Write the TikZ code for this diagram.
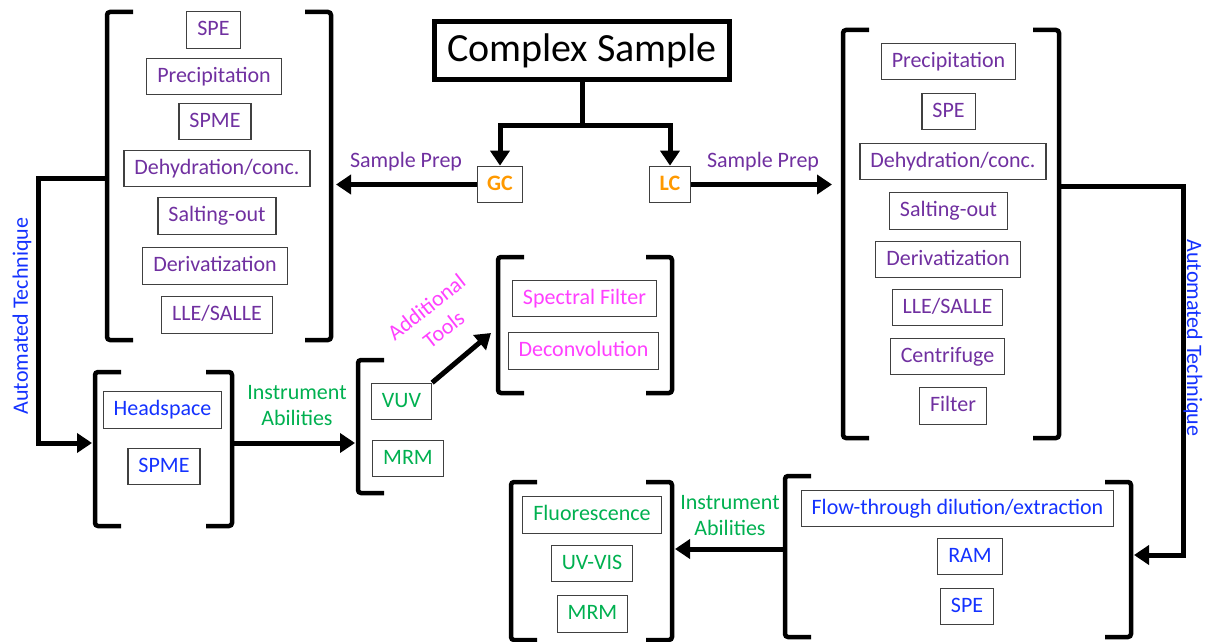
\documentclass[tikz,border=0pt]{standalone}
\usepackage{fontspec}
\setmainfont{Carlito}
\usetikzlibrary{arrows.meta}
\definecolor{prep}{RGB}{112,48,160}
\definecolor{autoc}{RGB}{20,50,255}
\definecolor{instr}{RGB}{0,176,80}
\definecolor{toolc}{RGB}{255,64,255}
\definecolor{chrom}{RGB}{255,153,0}
\definecolor{edge}{RGB}{64,64,64}

% square brackets: x, top y, bottom y
\newcommand\openbr[3]{\draw[brak] ({#1+26},#2) -- (#1,#2) -- (#1,#3) -- ({#1+26},#3);}
\newcommand\closebr[3]{\draw[brak] ({#1-26},#2) -- (#1,#2) -- (#1,#3) -- ({#1-26},#3);}

\begin{document}
\begin{tikzpicture}[x=1pt,y=-1pt,
  lbl/.style={font=\fontsize{22}{26}\selectfont},
  item/.style={lbl, draw=edge, line width=1.2pt, inner xsep=10.5pt, inner ysep=0pt,
    text height=16pt, text depth=5pt, minimum height=36.5pt},
  prepbox/.style={item, text=prep},
  autobox/.style={item, text=autoc},
  instrbox/.style={item, text=instr},
  toolbox/.style={item, text=toolc},
  chrombox/.style={item, text=chrom, font=\fontsize{22}{26}\selectfont\bfseries, inner xsep=10pt},
  brak/.style={line width=4.5pt, rounded corners=3pt},
  flow/.style={line width=5pt, -{Triangle[width=19pt,length=15pt]}},
  link/.style={line width=5pt},
]
\useasboundingbox (0,0) rectangle (1210,642);

% ---------- origin ----------
\node[draw, line width=5pt, font=\fontsize{40}{44}\selectfont, minimum width=295pt,
  minimum height=58pt, inner sep=0pt] (sample) at (582,50.5) {Complex Sample};
\node[chrombox] (gc) at (500,184.5) {GC};
\node[chrombox] (lc) at (670,184.5) {LC};
\draw[link] (sample.south) -- ++(0,43) coordinate (split);
\draw[flow] (split) -| (gc.north);
\draw[flow] (split) -| (lc.north);

% ---------- GC sample preparation ----------
\openbr{107}{12}{340}
\closebr{331}{12}{340}
\node[prepbox] at (213.5,30) {SPE};
\node[prepbox] at (214,76.5) {Precipitation};
\node[prepbox] at (215,121.5) {SPME};
\node[prepbox] at (217,168.5) {Dehydration/conc.};
\node[prepbox] at (217,216) {Salting-out};
\node[prepbox] at (215,266) {Derivatization};
\node[prepbox] at (217,315) {LLE/SALLE};
\coordinate (gcprep) at (336,184.5);
\draw[flow] (gc.west) -- (gcprep);
\node[lbl, text=prep] (gcpreplbl) at (406,162) {Sample Prep};

% ---------- GC automation ----------
\openbr{95}{372}{526}
\closebr{232}{372}{526}
\node[autobox] (headspace) at (162.5,410) {Headspace};
\node[autobox] (gcspme) at (164,466.5) {SPME};
\coordinate (gcbrout) at (107,178);
\coordinate (gcautoin) at (92,443);
\draw[flow] (gcbrout) -- (38,178) -- (38,443) -- (gcautoin);
\node[lbl, text=autoc, rotate=90] (gcautolbl) at (22,316) {Automated Technique};

% ---------- GC instruments ----------
\openbr{358}{360}{493}
\node[instrbox] (vuv) at (401.5,401.5) {VUV};
\node[instrbox] (gcmrm) at (408,458.5) {MRM};
\coordinate (gcautoout) at (232,443);
\coordinate (gcinstrin) at (355,443);
\draw[flow] (gcautoout) -- (gcinstrin);
\node[lbl, text=instr, align=center] (gcinstrlbl) at (297,406) {Instrument\\Abilities};

% ---------- additional tools ----------
\openbr{498}{257}{393}
\closebr{672}{257}{393}
\node[toolbox] (specfilt) at (584.5,298.5) {Spectral Filter};
\node[toolbox] (deconv) at (583.5,351) {Deconvolution};
\coordinate (toolsin) at (491,333);
\draw[flow] (vuv.north east) -- (toolsin);
\node[lbl, text=toolc, align=center, rotate=38, font=\fontsize{22}{28}\selectfont] (toolslbl) at (435,318) {Additional\\Tools};

% ---------- LC sample preparation ----------
\openbr{843}{30}{438}
\closebr{1059}{30}{438}
\node[prepbox] at (948.5,61.5) {Precipitation};
\node[prepbox] at (948.5,111.5) {SPE};
\node[prepbox] at (953,161.5) {Dehydration/conc.};
\node[prepbox] at (948.5,211) {Salting-out};
\node[prepbox] at (948,259.5) {Derivatization};
\node[prepbox] at (947.5,307.5) {LLE/SALLE};
\node[prepbox] at (947.5,356.5) {Centrifuge};
\node[prepbox] at (953,406) {Filter};
\coordinate (lcprep) at (832,184.5);
\draw[flow] (lc.east) -- (lcprep);
\node[lbl, text=prep] (lcpreplbl) at (763,162) {Sample Prep};

% ---------- LC automation ----------
\openbr{785}{476}{637}
\closebr{1131}{482}{637}
\node[autobox] (flowthru) at (957.5,508.5) {Flow-through dilution/extraction};
\node[autobox] (ram) at (970,556.5) {RAM};
\node[autobox] (lcspe) at (967,606.5) {SPE};
\coordinate (lcbrout) at (1059,186);
\coordinate (lcautoin) at (1134,555);
\draw[flow] (lcbrout) -- (1183,186) -- (1183,555) -- (lcautoin);
\node[lbl, text=autoc, rotate=-90] (lcautolbl) at (1193,338) {Automated Technique};

% ---------- LC instruments ----------
\openbr{511}{482}{640}
\closebr{672}{482}{640}
\node[instrbox] (fluor) at (592,515) {Fluorescence};
\node[instrbox] (uvvis) at (592,563.5) {UV-VIS};
\node[instrbox] (lcmrm) at (592.5,614) {MRM};
\coordinate (lcautoout) at (785,549);
\coordinate (lcinstrin) at (675,549);
\draw[flow] (lcautoout) -- (lcinstrin);
\node[lbl, text=instr, align=center] (lcinstrlbl) at (730,515.5) {Instrument\\Abilities};
\end{tikzpicture}
\end{document}
